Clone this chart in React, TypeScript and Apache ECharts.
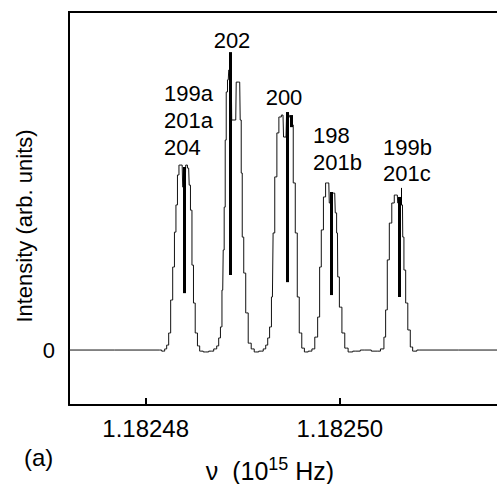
import React, { useEffect, useRef } from "react";
import * as echarts from "echarts";

// Frequency (10^15 Hz) and intensity (arb. units) of the recorded trace
const frequency = [
  1.1824721, 1.18248144, 1.18248186, 1.18248206, 1.18248227, 1.18248247, 1.18248268, 1.18248289,
  1.18248304, 1.1824832, 1.18248335, 1.18248351, 1.18248376, 1.18248387, 1.18248407, 1.18248418,
  1.18248443, 1.18248454, 1.18248469, 1.18248485, 1.182485, 1.18248521, 1.18248546, 1.18248567,
  1.18248619, 1.1824868, 1.18248722, 1.18248742, 1.18248763, 1.18248778, 1.18248794, 1.18248804,
  1.18248814, 1.18248825, 1.18248835, 1.18248851, 1.18248861, 1.18248881, 1.18248892, 1.18248928,
  1.18248938, 1.18248969, 1.18248979, 1.1824899, 1.18249, 1.18249021, 1.18249041, 1.18249072,
  1.18249103, 1.18249134, 1.18249196, 1.18249227, 1.18249247, 1.18249268, 1.18249286, 1.18249306,
  1.1824932, 1.1824934, 1.18249364, 1.18249381, 1.18249415, 1.18249426, 1.18249446, 1.18249457,
  1.18249502, 1.18249512, 1.18249529, 1.18249554, 1.1824957, 1.18249595, 1.18249622, 1.18249649,
  1.18249701, 1.18249725, 1.1824976, 1.18249784, 1.18249801, 1.18249818, 1.18249845, 1.18249863,
  1.18249887, 1.18249897, 1.18249912, 1.18249921, 1.18249948, 1.18249959, 1.18249976, 1.18249982,
  1.1825001, 1.18250034, 1.18250069, 1.18250103, 1.18250165, 1.18250258, 1.18250392, 1.18250446,
  1.18250464, 1.18250481, 1.18250498, 1.18250523, 1.18250549, 1.18250574, 1.18250593, 1.18250601,
  1.18250618, 1.18250646, 1.18250652, 1.1825067, 1.18250688, 1.18250714, 1.18250739, 1.18250763,
  1.18250825, 1.1825162,
];
const intensity = [
  0, 0, -0.4, 0.4, 1.8, 6.2, 18.2, 30.2,
  42.9, 52.8, 63.7, 67.3, 67.3, 59.3, 59.3, 67.3,
  66.2, 60.0, 50.9, 30.9, 17.1, 6.2, 1.5, -0.4,
  -0.7, -0.4, 0.4, 1.5, 4.4, 8.4, 21.8, 36.4,
  52.0, 76.4, 93.9, 98.3, 101.9, 101.9, 83.7, 83.7,
  97.5, 97.5, 83.7, 64.4, 41.1, 28.0, 13.5, 2.5,
  0.4, -0.7, -0.4, 0.4, 1.8, 4.4, 8.4, 19.3,
  42.6, 63.0, 79.0, 84.8, 85.5, 77.5, 77.5, 85.5,
  84.8, 81.9, 60.8, 42.6, 19.3, 6.2, 0.7, -0.7,
  -0.4, 0.4, 4.7, 12.0, 30.2, 43.7, 55.7, 60.8,
  60.8, 53.5, 53.5, 57.1, 57.1, 49.9, 42.6, 26.6,
  15.6, 6.2, 0.7, -0.7, -0.4, 0, -0.4, 0.4,
  4.7, 14.6, 32.8, 46.2, 53.5, 56.4, 56.4, 53.5,
  54.6, 52.8, 41.1, 29.1, 17.1, 7.3, 1.1, -0.4,
  0, 0,
];

// Isotope marker sticks
const stickFrequency = [1.18248397, 1.18248876, 1.18249457, 1.18249495, 1.18249914, 1.18250613];
const stickTop = [66.6, 108.4, 86.6, 85.5, 57.5, 55.7];
const stickBottom = [20.7, 27.3, 24.7, 81.1, 20.0, 19.3];
const thinStickFrequency = [1.18250636];
const thinStickTop = [59.0];
const thinStickBottom = [52.8];

const xTicks = [1.18248, 1.1825];
const yTicks = [0];

const labels202 = ["202"];
const labels199a = ["199a", "201a", "204"];
const labels200 = ["200"];
const labels198 = ["198", "201b"];
const labels199b = ["199b", "201c"];

const FONT = "Liberation Sans, Arial, Helvetica, sans-serif";

export default function App() {
  const ref = useRef<HTMLDivElement>(null);

  useEffect(() => {
    if (!ref.current) return;
    const chart = echarts.init(ref.current, null, { renderer: "svg" });

    const trace = frequency.map((f, i) => [f, intensity[i]]);
    const sticks = stickFrequency.map((f, i) => [
      { coord: [f, stickTop[i]] },
      { coord: [f, stickBottom[i]] },
    ]);
    const thinSticks = thinStickFrequency.map((f, i) => [
      { coord: [f, thinStickTop[i]], lineStyle: { width: 1 } },
      { coord: [f, thinStickBottom[i]] },
    ]);

    const txt = (text: string, x: number, y: number, align = "left", size = 22) => ({
      type: "text",
      x,
      y,
      silent: true,
      style: {
        text,
        font: `${size}px ${FONT}`,
        fill: "#000",
        textAlign: align,
        textVerticalAlign: "middle",
      },
    });

    const graphics: any[] = [];
    labels202.forEach((t, i) => graphics.push(txt(t, 232, 40 + i * 27, "center")));
    labels199a.forEach((t, i) => graphics.push(txt(t, 164, 93 + i * 27)));
    labels200.forEach((t, i) => graphics.push(txt(t, 284, 97 + i * 27, "center")));
    labels198.forEach((t, i) => graphics.push(txt(t, 313, 135 + i * 27)));
    labels199b.forEach((t, i) => graphics.push(txt(t, 383, 147 + i * 26)));
    graphics.push(txt("(a)", 24, 457, "left", 24));
    graphics.push({
      type: "text",
      x: 270,
      y: 469,
      silent: true,
      style: {
        text: "{a|\u03bd  (10}{s|15}{a| Hz)}",
        textAlign: "center",
        textVerticalAlign: "middle",
        rich: {
          a: { fontFamily: FONT, fontSize: 25, fill: "#000", lineHeight: 29, verticalAlign: "bottom" },
          s: { fontFamily: FONT, fontSize: 18, fill: "#000", lineHeight: 29, verticalAlign: "top", padding: [0, 0, 8, 0] },
        },
      },
    });
    graphics.push({
      type: "text",
      x: 24,
      y: 226,
      rotation: Math.PI / 2,
      silent: true,
      style: {
        text: "Intensity (arb. units)",
        font: `22px ${FONT}`,
        fill: "#000",
        textAlign: "center",
        textVerticalAlign: "middle",
      },
    });
    graphics.push({
      type: "line",
      silent: true,
      shape: { x1: 68, y1: 12, x2: 497, y2: 12 },
      style: { stroke: "#000", lineWidth: 2 },
    });

    chart.setOption({
      animation: false,
      backgroundColor: "#fff",
      grid: { left: 69, right: 0, top: 12, bottom: 79, containLabel: false },
      xAxis: {
        type: "value",
        min: 1.1824721,
        max: 1.1825162,
        axisLine: { show: true, onZero: false, lineStyle: { color: "#000", width: 2 } },
        axisTick: {
          show: true,
          inside: true,
          length: 7,
          customValues: xTicks,
          lineStyle: { color: "#000", width: 2 },
        },
        axisLabel: {
          show: true,
          customValues: xTicks,
          formatter: (v: number) => v.toFixed(5),
          color: "#000",
          fontFamily: FONT,
          fontSize: 24,
          margin: 11,
        },
        splitLine: { show: false },
      },
      yAxis: {
        type: "value",
        min: -20,
        max: 123,
        axisLine: { show: true, onZero: false, lineStyle: { color: "#000", width: 2 } },
        axisTick: { show: false },
        axisLabel: {
          show: true,
          customValues: yTicks,
          formatter: (v: number) => String(v),
          color: "#000",
          fontFamily: FONT,
          fontSize: 22,
          margin: 14,
        },
        splitLine: { show: false },
      },
      graphic: graphics,
      series: [
        {
          type: "line",
          data: trace,
          step: "middle",
          showSymbol: false,
          symbol: "none",
          silent: true,
          lineStyle: { color: "#111", width: 1 },
          markLine: {
            silent: true,
            symbol: ["none", "none"],
            label: { show: false },
            lineStyle: { color: "#000", width: 3, type: "solid" },
            emphasis: { disabled: true },
            data: [...sticks, ...thinSticks],
          },
        },
      ],
    });

    return () => chart.dispose();
  }, []);

  return (
    <div
      ref={ref}
      style={{ position: "absolute", left: 0, top: 0, width: 497, height: 484 }}
    />
  );
}
